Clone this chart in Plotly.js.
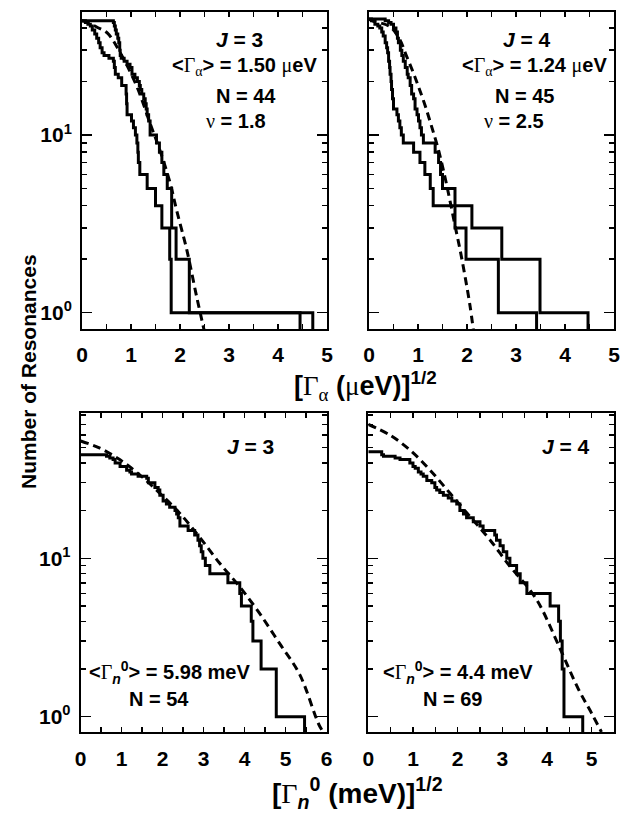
<!DOCTYPE html>
<html><head><meta charset="utf-8">
<script src="https://cdn.plot.ly/plotly-3.0.1.min.js"></script>
<style>html,body{margin:0;padding:0;background:#fff}#chart{width:621px;height:817px}</style>
</head><body><div id="chart"></div>
<script>
// ---------- data ----------
// Top row: cumulative number of resonances vs [Gamma_alpha]^(1/2)
const j3AlphaA_x = [0, 0.07, 0.12, 0.17, 0.21, 0.26, 0.30, 0.34, 0.37, 0.41, 0.45, 0.55, 0.64, 0.66, 0.68, 0.74, 0.81, 0.90, 0.91, 0.92, 1.01, 1.05, 1.09, 1.12, 1.14, 1.15, 1.18, 1.33, 1.50, 1.63, 1.79, 1.82, 4.45];
const j3AlphaA_n = [44, 43, 42, 41, 39, 37, 35, 33, 31, 29, 28, 27, 26, 24, 22, 21, 19, 17, 15, 13, 12, 11, 10, 9, 8, 7, 6, 5, 4, 3, 2, 1, 0.5];
const j3AlphaB_x = [0, 0.64, 0.66, 0.68, 0.70, 0.73, 0.75, 0.77, 0.78, 0.80, 0.86, 0.92, 0.98, 1.02, 1.08, 1.13, 1.17, 1.19, 1.22, 1.26, 1.29, 1.31, 1.33, 1.36, 1.39, 1.52, 1.58, 1.63, 1.67, 1.74, 1.83, 1.92, 2.19, 4.71];
const j3AlphaB_n = [44, 43, 41, 39, 37, 35, 33, 30, 28, 27, 26, 25, 24, 22, 21, 20, 19, 18, 17, 16, 15, 14, 13, 12, 10, 9, 8, 7, 6, 5, 3, 2, 1, 0.5];
const j3AlphaFit_x = [0, 0.12, 0.30, 0.52, 0.78, 1.12, 1.39, 1.59, 1.80, 1.93, 2.14, 2.34, 2.50];
const j3AlphaFit_n = [44, 43, 40.5, 37.4, 29, 18.7, 11.6, 8.2, 5.35, 3.78, 2.25, 1.23, 0.78];

const j4AlphaA_x = [0, 0.05, 0.12, 0.18, 0.22, 0.26, 0.29, 0.33, 0.36, 0.38, 0.40, 0.42, 0.43, 0.45, 0.46, 0.48, 0.50, 0.57, 0.60, 0.63, 0.66, 0.70, 0.91, 1.04, 1.14, 1.25, 1.31, 2.10, 2.71, 3.49, 4.47];
const j4AlphaA_n = [45, 44, 42, 41, 40, 38, 36, 33, 31, 29, 26, 24, 22, 20, 18, 16, 14, 13, 12, 11, 10, 9, 8, 7, 6, 5, 4, 3, 2, 1, 0.5];
const j4AlphaB_x = [0, 0.33, 0.40, 0.45, 0.50, 0.55, 0.58, 0.60, 0.64, 0.67, 0.70, 0.74, 0.78, 0.80, 0.84, 0.87, 0.91, 0.94, 0.98, 1.01, 1.04, 1.07, 1.11, 1.35, 1.42, 1.46, 1.50, 1.755, 1.98, 2.64, 3.42];
const j4AlphaB_n = [45, 44, 43, 42, 40, 38, 35, 33, 30, 28, 26, 24, 22, 21, 19, 17, 16, 14, 13, 12, 11, 10, 9, 8, 7, 6, 5, 3, 2, 1, 0.5];
const j4AlphaFit_x = [0, 0.06, 0.43, 0.63, 0.77, 0.91, 1.01, 1.14, 1.28, 1.42, 1.55, 1.65, 1.76, 1.86, 1.96, 2.06, 2.13];
const j4AlphaFit_n = [45, 44, 40.7, 34.3, 27.6, 22.2, 18.7, 14.8, 11.1, 8.2, 5.8, 4.3, 3.05, 2.25, 1.6, 1.1, 0.80];

// Bottom row: cumulative number vs [Gamma_n^0]^(1/2)
const j3Neut_x = [0, 0.63, 0.71, 0.79, 0.84, 0.96, 1.12, 1.20, 1.24, 1.40, 1.61, 1.65, 1.81, 1.89, 1.93, 2.01, 2.09, 2.17, 2.30, 2.34, 2.38, 2.42, 2.62, 2.78, 2.86, 2.90, 2.94, 2.98, 3.04, 3.15, 3.59, 3.88, 3.92, 4.16, 4.20, 4.40, 4.77, 5.46];
const j3Neut_n = [45, 44, 43, 42, 40, 38, 36, 35, 34, 33, 32, 30, 28, 27, 25, 23, 22, 21, 20, 19, 18, 16, 15, 14, 13, 12, 11, 10, 9, 8, 7, 6, 5, 4, 3, 2, 1, 0.5];
const j3NeutFit_x = [0, 0.47, 0.96, 1.44, 1.93, 2.42, 2.90, 3.39, 3.88, 4.36, 4.85, 5.34, 5.82, 5.95];
const j3NeutFit_n = [55, 49.5, 41.8, 33.6, 25.7, 19.2, 13.6, 9.3, 6.6, 4.5, 2.9, 1.85, 0.88, 0.78];

const j4Neut_x = [0, 0.30, 0.34, 0.60, 0.71, 0.93, 1.00, 1.05, 1.12, 1.18, 1.23, 1.31, 1.42, 1.49, 1.53, 1.60, 1.68, 1.79, 1.87, 1.98, 2.05, 2.13, 2.20, 2.35, 2.50, 2.57, 2.83, 2.87, 2.95, 3.02, 3.10, 3.17, 3.32, 3.40, 3.55, 4.07, 4.26, 4.30, 4.34, 4.38, 4.80];
const j4Neut_n = [47, 45, 44, 43, 42, 40, 38, 37, 35, 34, 33, 31, 30, 28, 27, 26, 25, 24, 23, 22, 20, 19, 18, 17, 16, 15, 14, 13, 12, 11, 10, 9, 8, 7, 6, 5, 4, 3, 2, 1, 0.5];
const j4NeutFit_x = [0, 0.48, 0.93, 1.38, 1.83, 2.28, 2.72, 3.17, 3.62, 3.85, 4.29, 4.70, 5.00, 5.22];
const j4NeutFit_n = [70, 60, 48.3, 36.1, 25.7, 18.3, 13.1, 8.9, 6.3, 5.0, 2.7, 1.5, 1.05, 0.8];

const yTickVals = [1, 10];
const yTickText = ['10<sup>0</sup>', '10<sup>1</sup>'];
const yMinorVals = [2, 3, 4, 5, 6, 7, 8, 9, 20, 30, 40, 50, 60, 70, 80, 90];

// ---------- layout helpers ----------
const W = 621, H = 817;
const FONT = 'Liberation Sans, Arial, sans-serif';
const SER = 'Liberation Serif';
const sym = c => `<span style="font-family:${SER};font-weight:normal">${c}</span>`;

function stairs(x, y, xa, ya) {
  return {x, y, xaxis: xa, yaxis: ya, mode: 'lines', line: {shape: 'hv', color: '#000', width: 3}, hoverinfo: 'skip'};
}
function fit(x, y, xa, ya) {
  return {x, y, xaxis: xa, yaxis: ya, mode: 'lines', line: {shape: 'spline', color: '#000', width: 3, dash: '8px,5px'}, hoverinfo: 'skip'};
}
function xaxis(domain, maxv, anchor) {
  return {domain, range: [0, maxv], anchor, showline: true, linecolor: '#000', linewidth: 2,
    mirror: 'ticks', ticks: 'inside', ticklen: 5, tickwidth: 1.5, tickcolor: '#000',
    tickmode: 'linear', tick0: 0, dtick: 1, ticklabelstandoff: 6,
    minor: {tickmode: 'linear', tick0: 0, dtick: 0.5, ticks: 'inside', ticklen: 5, tickwidth: 1.5, tickcolor: '#000', showgrid: false},
    tickfont: {family: FONT, size: 21, weight: 'bold', color: '#000'},
    showgrid: false, zeroline: false, fixedrange: true};
}
function yaxis(domain, range, anchor, showLabels) {
  return {domain, type: 'log', range, anchor, showline: true, linecolor: '#000', linewidth: 2,
    mirror: 'ticks', ticks: 'inside', ticklen: 10, tickwidth: 1.5, tickcolor: '#000',
    tickmode: 'array', tickvals: yTickVals, ticktext: yTickText, showticklabels: showLabels,
    ticklabelstandoff: 4,
    minor: {tickmode: 'array', tickvals: yMinorVals, ticks: 'inside', ticklen: 5, tickwidth: 1.5, tickcolor: '#000', showgrid: false},
    tickfont: {family: FONT, size: 21, weight: 'bold', color: '#000'},
    showgrid: false, zeroline: false, fixedrange: true};
}
const dx = (a, b) => [a / W, b / W];
const dy = (top, bot) => [1 - bot / H, 1 - top / H];

const traces = [
  stairs(j3AlphaA_x, j3AlphaA_n, 'x', 'y'),
  stairs(j3AlphaB_x, j3AlphaB_n, 'x', 'y'),
  fit(j3AlphaFit_x, j3AlphaFit_n, 'x', 'y'),
  stairs(j4AlphaA_x, j4AlphaA_n, 'x2', 'y2'),
  stairs(j4AlphaB_x, j4AlphaB_n, 'x2', 'y2'),
  fit(j4AlphaFit_x, j4AlphaFit_n, 'x2', 'y2'),
  stairs(j3Neut_x, j3Neut_n, 'x3', 'y3'),
  fit(j3NeutFit_x, j3NeutFit_n, 'x3', 'y3'),
  stairs(j4Neut_x, j4Neut_n, 'x4', 'y4'),
  fit(j4NeutFit_x, j4NeutFit_n, 'x4', 'y4')
];

function note(text, x, y, size, extra) {
  return Object.assign({text, xref: 'paper', yref: 'paper', x: x / W, y: 1 - y / H,
    xanchor: 'center', yanchor: 'middle', showarrow: false,
    font: {family: FONT, size: size || 17, weight: 'bold', color: '#000'}}, extra || {});
}
const Gam = sym('Γ'), alp = sym('α'), mu = sym('μ'), nu = sym('ν');
const gAlpha = `&lt;${Gam}<sub>${alp}</sub>&gt;`;
const gN0 = `&lt;${Gam}<sub><i>n</i></sub><sup>0</sup>&gt;`;

const annotations = [
  note('<i>J</i> = 3', 239, 40, 21),
  note(`${gAlpha} = 1.50 ${mu}eV`, 244, 67, 20),
  note('N = 44', 246, 96, 20),
  note(`${nu} = 1.8`, 236, 121, 20),
  note('<i>J</i> = 4', 527, 40, 21),
  note(`${gAlpha} = 1.24 ${mu}eV`, 534, 67, 20),
  note('N = 45', 524, 96, 20),
  note(`${nu} = 2.5`, 514, 121, 20),
  note('<i>J</i> = 3', 250, 446, 21),
  note(`${gN0} = 5.98 meV`, 169, 672, 20),
  note('N = 54', 159, 699, 20),
  note('<i>J</i> = 4', 566, 446, 21),
  note(`${gN0} = 4.4 meV`, 458, 672, 20),
  note('N = 69', 452, 699, 20),
  note('Number of Resonances', 28, 372, 21, {textangle: -90}),
  note(`[${Gam}<sub>${alp}</sub> (${mu}eV)]<sup>1/2</sup>`, 366, 386, 27),
  note(`[${Gam}<sub><i>n</i></sub><sup>0</sup> (meV)]<sup>1/2</sup>`, 357, 793, 28)
];

const layout = {
  width: W, height: H, margin: {l: 0, r: 0, t: 0, b: 0},
  paper_bgcolor: '#fff', plot_bgcolor: '#fff', showlegend: false,
  xaxis: xaxis(dx(82, 327), 5, 'y'),
  yaxis: yaxis(dy(12, 329), [-0.0917, 1.692], 'x', true),
  xaxis2: xaxis(dx(369, 614), 5, 'y2'),
  yaxis2: yaxis(dy(12, 329), [-0.0917, 1.692], 'x2', false),
  xaxis3: xaxis(dx(80.7, 326.7), 6, 'y3'),
  yaxis3: yaxis(dy(413, 732.3), [-0.0985, 1.917], 'x3', true),
  xaxis4: xaxis(dx(368.3, 614), 5.5, 'y4'),
  yaxis4: yaxis(dy(413, 732.3), [-0.0985, 1.917], 'x4', false),
  annotations
};
Plotly.newPlot('chart', traces, layout, {staticPlot: true, displayModeBar: false});
</script></body></html>
